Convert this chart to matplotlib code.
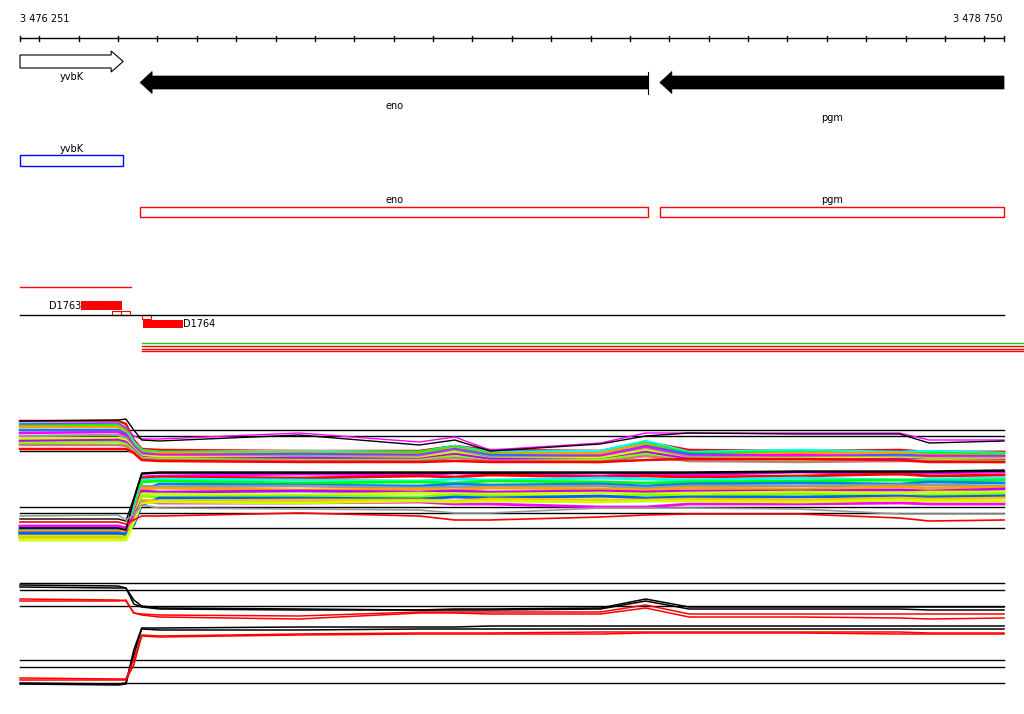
import matplotlib
matplotlib.use("Agg")
import matplotlib.pyplot as plt
from matplotlib.patches import Polygon, Rectangle

# ---- view / ruler ----
VIEW_START = 3476251
VIEW_END = 3478750
BP_PER_PX = (VIEW_END - VIEW_START) / 984.0
tick_step = 100

# ---- genes (arrow track) ----
gene_names = ["yvbK", "eno", "pgm"]
gene_starts = [3476251, 3476556, 3477876]
gene_ends = [3476513, 3477847, 3478750]
gene_strands = [1, -1, -1]

# ---- annotated features (box track) ----
feat_names = ["yvbK", "eno", "pgm"]
feat_starts = [3476251, 3476556, 3477876]
feat_ends = [3476513, 3477847, 3478750]
feat_strands = [1, -1, -1]

# ---- probes ----
probe_names = ["D1763", "D1764"]
probe_starts = [3476406, 3476563]
probe_ends = [3476510, 3476665]

# ---- signal tracks (values are row levels inside each track) ----
grid_pos = [3476251, 3476500, 3476520, 3476540, 3476560, 3476605, 3476960,
            3477265, 3477355, 3477445, 3477725, 3477840, 3477950, 3478230,
            3478485, 3478560, 3478750]

# track A : reference levels
refs_a = [30, 36, 51, 107, 113, 128]

upper_colors = ["#ff0000", "#00ffff", "#00ff00", "#ffa000", "#0080ff", "#ff00ff",
                "#999999", "#ccff00", "#c000ff", "#80ff00", "#c08080", "#ff0000"]
upper_values = [
    [21, 21, 24, 40, 49, 50, 51, 51, 46, 50, 51, 42, 50, 51, 50, 52, 52],
    [23, 23, 28, 42, 50, 52, 51, 52, 46, 52, 51, 41, 52, 50, 52, 51, 53],
    [25, 25, 30, 44, 51, 52, 53, 52, 47, 53, 54, 43, 53, 52, 54, 53, 54],
    [27, 27, 32, 45, 52, 53, 52, 54, 48, 54, 53, 44, 55, 53, 53, 55, 55],
    [30, 30, 34, 46, 53, 55, 54, 55, 49, 55, 56, 46, 54, 56, 55, 56, 56],
    [33, 32, 36, 47, 54, 55, 56, 56, 50, 57, 56, 47, 56, 55, 57, 56, 57],
    [36, 35, 38, 48, 55, 57, 56, 57, 51, 57, 58, 49, 57, 58, 57, 58, 58],
    [39, 38, 40, 49, 56, 57, 58, 58, 52, 59, 58, 50, 59, 58, 58, 59, 59],
    [41, 40, 42, 50, 57, 59, 58, 59, 54, 59, 60, 52, 59, 60, 59, 60, 60],
    [43, 42, 44, 51, 58, 59, 60, 60, 56, 61, 60, 54, 61, 60, 61, 60, 61],
    [45, 45, 46, 52, 59, 60, 61, 61, 58, 61, 62, 56, 61, 62, 61, 61, 62],
    [49, 49, 49, 53, 60, 61, 62, 62, 61, 62, 62, 60, 59, 59, 60, 62, 62],
]
upper_magenta = [24, 23, 28, 36, 39, 39, 33, 42, 37, 50, 43, 33, 33, 33, 33, 40, 40]
upper_black = [21, 20, 19, 30, 40, 41, 35, 45, 40, 51, 44, 36, 33, 34, 34, 43, 41]

lower_colors = ["#ff00ff", "#ff0000", "#00ffff", "#00ff00", "#0080ff", "#999999",
                "#ffa000", "#c000ff", "#ccff00", "#80ff00", "#0060ff", "#ffc000",
                "#ff00ff", "#ccff00"]
lower_values = [
    [130, 130, 132, 105, 77, 76, 74, 75, 73, 74, 76, 74, 75, 72, 74, 73, 72],
    [132, 132, 133, 108, 78, 77, 78, 76, 77, 75, 77, 76, 77, 76, 74, 76, 75],
    [127, 127, 129, 105, 80, 79, 80, 81, 79, 80, 78, 79, 80, 78, 80, 79, 78],
    [133, 133, 134, 112, 82, 81, 83, 82, 83, 81, 82, 83, 82, 81, 80, 81, 80],
    [129, 129, 131, 120, 90, 84, 85, 86, 84, 85, 84, 86, 84, 83, 84, 82, 83],
    [134, 134, 135, 114, 86, 87, 86, 88, 87, 87, 86, 88, 86, 86, 85, 85, 86],
    [131, 131, 132, 115, 89, 88, 90, 89, 90, 88, 89, 90, 88, 89, 87, 88, 87],
    [135, 135, 136, 117, 91, 92, 91, 92, 91, 92, 91, 92, 91, 91, 90, 91, 89],
    [136, 136, 137, 118, 94, 94, 95, 93, 94, 94, 93, 94, 93, 92, 93, 92, 92],
    [137, 137, 138, 119, 96, 97, 96, 97, 95, 96, 97, 95, 96, 94, 96, 95, 94],
    [133, 133, 134, 125, 105, 98, 98, 99, 97, 98, 96, 98, 97, 97, 96, 97, 96],
    [138, 138, 139, 121, 100, 101, 100, 100, 101, 99, 100, 100, 99, 100, 98, 99, 98],
    [126, 126, 128, 116, 102, 103, 103, 102, 104, 104, 107, 107, 104, 104, 103, 104, 104],
    [140, 140, 140, 122, 103, 102, 103, 101, 102, 101, 102, 101, 101, 102, 100, 101, 101],
]
lower_black = [128, 128, 130, 100, 74, 73, 73, 73, 73, 73, 73, 73, 73, 72, 72, 72, 71]
lower_black2 = [119, 119, 121, 98, 73, 72, 72, 72, 72, 72, 72, 72, 72, 71, 71, 71, 70]
lower_gray = [116, 115, 120, 115, 105, 108, 109, 110, 113, 113, 108, 108, 108, 109, 114, 114, 114]
lower_red = [122, 122, 124, 120, 116, 116, 113, 116, 120, 120, 117, 115, 114, 114, 118, 121, 120]

# track B : reference levels and summary lines
refs_b = [13, 20, 36, 90, 97, 113]
b_up_black = [
    [15, 16, 18, 30, 36, 38, 39, 40, 39, 39, 38, 29, 37, 37, 37, 37, 37],
    [17, 18, 18, 34, 37, 39, 40, 40, 40, 40, 39, 31, 39, 39, 39, 40, 40],
]
b_up_red = [
    [29, 30, 31, 43, 44, 45, 46, 42, 42, 42, 42, 35, 44, 44, 44, 44, 44],
    [31, 31, 30, 43, 45, 47, 49, 43, 43, 44, 44, 38, 47, 47, 48, 49, 48],
]
b_low_black = [
    [113, 114, 113, 80, 58, 58, 57, 57, 57, 56, 56, 56, 56, 56, 56, 56, 56],
    [114, 115, 114, 85, 59, 60, 60, 59, 59, 59, 59, 59, 59, 59, 59, 59, 59],
]
b_low_red = [
    [108, 109, 109, 90, 65, 66, 64, 63, 63, 63, 62, 62, 62, 62, 62, 63, 63],
    [110, 110, 110, 95, 66, 67, 65, 64, 64, 64, 64, 63, 63, 63, 64, 64, 64],
]

# ---- layout (pixel rows of the image) ----
W, H = 1024, 714
TRACK_A_TOP = 400
TRACK_B_TOP = 570


def px(x):
    return VIEW_START + (x - 20) * BP_PER_PX


fig = plt.figure(figsize=(W / 100, H / 100), dpi=100)
ax = fig.add_axes([0, 0, 1, 1])
ax.set_xlim(px(0), px(W))
ax.set_ylim(H, 0)
ax.axis("off")

fs = 7
font = "DejaVu Sans"

# ruler
ax.plot([VIEW_START, VIEW_END], [38, 38], color="black", lw=1)
ticks = [VIEW_START] + list(range(3476300, VIEW_END, tick_step)) + [VIEW_END]
for t in ticks:
    ax.plot([t, t], [35.5, 40.5], color="black", lw=1)
ax.text(VIEW_START, 19, "3 476 251", fontsize=fs, family=font, ha="left", va="center")
ax.text(px(1002), 19, "3 478 750", fontsize=fs, family=font, ha="right", va="center")

# gene arrows
head_bp = 12 * BP_PER_PX
label_rows = [77, 106, 118]
for name, s, e, strand, ly in zip(gene_names, gene_starts, gene_ends, gene_strands, label_rows):
    if strand > 0:
        yc, bh, hh = 61.5, 6.5, 10.5
        pts = [(s, yc - bh), (e - head_bp, yc - bh), (e - head_bp, yc - hh), (e, yc),
               (e - head_bp, yc + hh), (e - head_bp, yc + bh), (s, yc + bh)]
        ax.add_patch(Polygon(pts, closed=True, facecolor="white", edgecolor="black", lw=0.8))
    else:
        yc, bh, hh = 82.5, 6.5, 11
        pts = [(e, yc - bh), (s + head_bp, yc - bh), (s + head_bp, yc - hh), (s, yc),
               (s + head_bp, yc + hh), (s + head_bp, yc + bh), (e, yc + bh)]
        ax.add_patch(Polygon(pts, closed=True, facecolor="black", edgecolor="black", lw=0.5))
        if e < VIEW_END:
            ax.plot([e, e], [72, 94], color="black", lw=0.8)
    ax.text((s + e) / 2, ly, name, fontsize=fs, family=font, ha="center", va="center")

# feature boxes
for name, s, e, strand in zip(feat_names, feat_starts, feat_ends, feat_strands):
    if strand > 0:
        y0, y1, col, ly = 155, 166, "#0000ff", 149
    else:
        y0, y1, col, ly = 207, 217, "#ff0000", 200
    ax.add_patch(Rectangle((s, y0), e - s, y1 - y0, facecolor="none", edgecolor=col, lw=1))
    ax.text((s + e) / 2, ly, name, fontsize=fs, family=font, ha="center", va="center")

# probes track
ax.plot([VIEW_START, px(131)], [287, 287], color="red", lw=1)
ax.plot([VIEW_START, VIEW_END], [315, 315], color="black", lw=1)
ax.add_patch(Rectangle((probe_starts[0], 301), probe_ends[0] - probe_starts[0], 9,
                       facecolor="red", edgecolor="none"))
ax.text(probe_starts[0], 306, probe_names[0], fontsize=fs, family=font, ha="right", va="center")
ax.add_patch(Rectangle((probe_starts[1], 320), probe_ends[1] - probe_starts[1], 8,
                       facecolor="red", edgecolor="none"))
ax.text(probe_ends[1], 324, probe_names[1], fontsize=fs, family=font, ha="left", va="center")
for a, b, y0, y1 in [(px(112), px(121), 311, 315), (px(121), px(130), 311, 315),
                     (px(142), px(151), 315, 319)]:
    ax.add_patch(Rectangle((a, y0), b - a, y1 - y0, facecolor="none", edgecolor="red", lw=0.8))
for y, c in [(343, "#00dd00"), (346, "red"), (349, "red"), (351, "red")]:
    ax.plot([px(142), px(W)], [y, y], color=c, lw=1)

# signal track A
for r in refs_a:
    ax.plot([VIEW_START, VIEW_END], [TRACK_A_TOP + r] * 2, color="black", lw=1, zorder=1)
for c, v in zip(upper_colors, upper_values):
    ax.plot(grid_pos, [TRACK_A_TOP + y for y in v], color=c, lw=1.8, zorder=2)
ax.plot(grid_pos, [TRACK_A_TOP + y for y in upper_magenta], color="#ff00ff", lw=1, zorder=3)
ax.plot(grid_pos, [TRACK_A_TOP + y for y in upper_black], color="black", lw=1, zorder=3)
for c, v in zip(lower_colors, lower_values):
    ax.plot(grid_pos, [TRACK_A_TOP + y for y in v], color=c, lw=2, zorder=2)
ax.plot(grid_pos, [TRACK_A_TOP + y for y in lower_black], color="black", lw=1.2, zorder=3)
ax.plot(grid_pos, [TRACK_A_TOP + y for y in lower_black2], color="black", lw=1, zorder=3)
ax.plot(grid_pos, [TRACK_A_TOP + y for y in lower_gray], color="#999999", lw=1.2, zorder=3)
ax.plot(grid_pos, [TRACK_A_TOP + y for y in lower_red], color="red", lw=1.2, zorder=3)

# signal track B
for r in refs_b:
    ax.plot([VIEW_START, VIEW_END], [TRACK_B_TOP + r] * 2, color="black", lw=1, zorder=1)
for v in b_up_black + b_low_black:
    ax.plot(grid_pos, [TRACK_B_TOP + y for y in v], color="black", lw=1.1, zorder=2)
for v in b_up_red + b_low_red:
    ax.plot(grid_pos, [TRACK_B_TOP + y for y in v], color="red", lw=1.1, zorder=2)

fig.savefig("out.png", dpi=100)
